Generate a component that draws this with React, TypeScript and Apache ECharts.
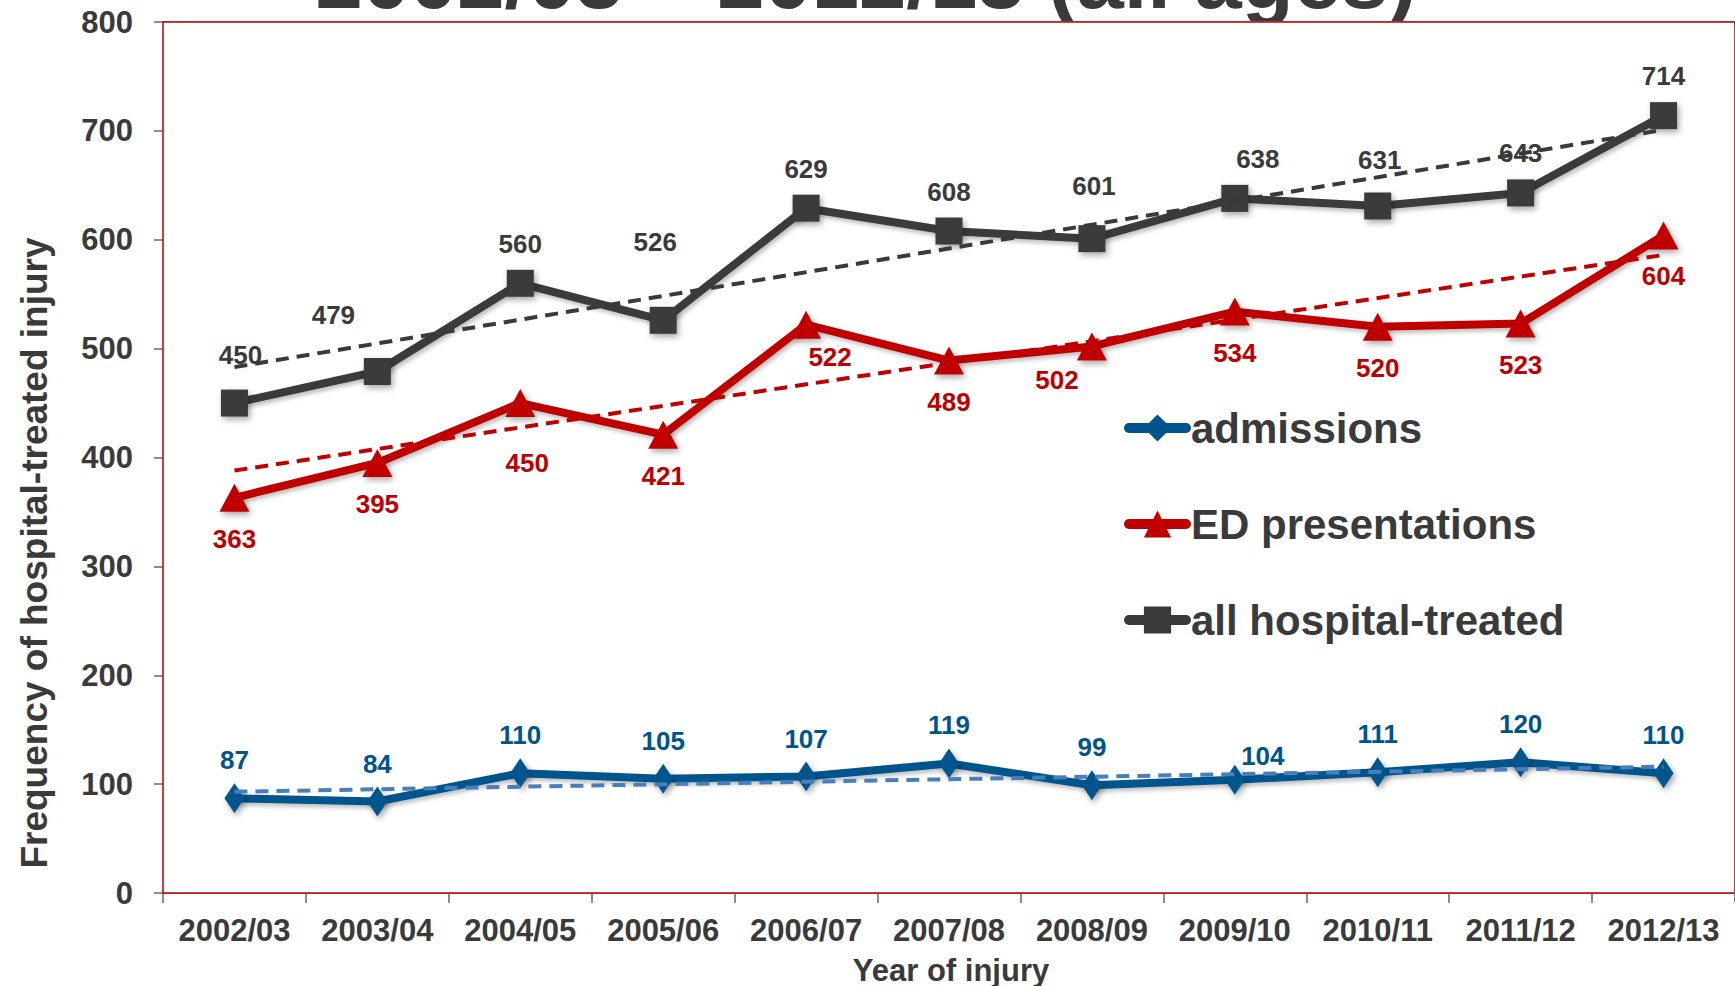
import React, { useEffect, useRef } from "react";
import * as echarts from "echarts";

// Financial years on the category axis
const years = [
  "2002/03", "2003/04", "2004/05", "2005/06", "2006/07", "2007/08",
  "2008/09", "2009/10", "2010/11", "2011/12", "2012/13",
];

// Yearly counts of hospital-treated injury
const admissions = [87, 84, 110, 105, 107, 119, 99, 104, 111, 120, 110];
const edPresentations = [363, 395, 450, 421, 522, 489, 502, 534, 520, 523, 604];
const allHospitalTreated = [450, 479, 560, 526, 629, 608, 601, 638, 631, 643, 714];

// Linear trend lines: value at the first and at the last year
const admissionsTrend = [93, 116];
const edTrend = [388, 586];
const allTrend = [483, 701];

// Value axis range
const yMin = 0;
const yMax = 800;
const yStep = 100;

const titleText = "2002/03 – 2012/13 (all ages)";

const FONT = "'Liberation Sans', Arial, Helvetica, sans-serif";
const DARK = "#3a3a3a";
const RED = "#c00000";
const BLUE = "#00548c";
const BLUE_TREND = "#4a7ebb";

// Hand-placed nudges [dx, dy] for labels that sit off their default spot
const allNudges: Record<number, number[]> = {
  0: [6, -9], 1: [-44, -17], 3: [-8, -39], 6: [2, -13], 7: [23, 0], 8: [2, -6],
};
const edNudges: Record<number, number[]> = {
  2: [7, 19], 4: [24, -9], 6: [-35, -7],
};
const admissionsNudges: Record<number, number[]> = {
  7: [28, 14],
};

const withNudges = (values: number[], nudges: Record<number, number[]>) =>
  values.map((v, i) => (nudges[i] ? { value: v, label: { offset: nudges[i] } } : v));

const markerShadow = {
  shadowBlur: 6,
  shadowColor: "rgba(0,0,0,0.35)",
  shadowOffsetX: 2,
  shadowOffsetY: 3,
};

const mainSeries = (
  name: string,
  values: number[],
  nudges: Record<number, number[]>,
  color: string,
  symbol: string,
  symbolSize: number | number[],
  labelPos: "top" | "bottom",
  labelDistance: number
) => ({
  name,
  type: "line",
  data: withNudges(values, nudges),
  symbol,
  symbolSize,
  z: 3,
  lineStyle: { color, width: 8, ...markerShadow, shadowBlur: 4, shadowColor: "rgba(0,0,0,0.25)" },
  itemStyle: { color, ...markerShadow },
  label: {
    show: true,
    position: labelPos,
    distance: labelDistance,
    color,
    fontSize: 26,
    fontWeight: "bold",
    fontFamily: FONT,
  },
  emphasis: { disabled: true },
});

const trendSeries = (name: string, ends: number[], color: string) => ({
  name,
  type: "line",
  data: [
    [years[0], ends[0]],
    [years[years.length - 1], ends[1]],
  ],
  symbol: "none",
  z: 4,
  lineStyle: { color, width: 4, type: [13, 8] },
  emphasis: { disabled: true },
  silent: true,
});

export default function App() {
  const ref = useRef<HTMLDivElement>(null);

  useEffect(() => {
    if (!ref.current) return;
    const chart = echarts.init(ref.current, null, { renderer: "svg" });

    const option = {
      animation: false,
      backgroundColor: "#ffffff",
      grid: {
        left: 163,
        top: 22,
        width: 1576,
        height: 871,
        show: true,
        backgroundColor: "#ffffff",
        borderColor: RED,
        borderWidth: 1.5,
        z: 1,
      },
      graphic: [
        {
          type: "text",
          z: -10,
          x: 866,
          y: -22,
          style: {
            text: titleText,
            fill: DARK,
            font: `bold 85px ${FONT}`,
            align: "center",
            verticalAlign: "middle",
          },
        },
        {
          type: "text",
          x: 34,
          y: 553,
          rotation: Math.PI / 2,
          style: {
            text: "Frequency of hospital-treated injury",
            fill: DARK,
            font: `bold 37px ${FONT}`,
            align: "center",
            verticalAlign: "middle",
          },
        },
        {
          type: "text",
          x: 951,
          y: 970,
          style: {
            text: "Year of injury",
            fill: DARK,
            font: `bold 31px ${FONT}`,
            align: "center",
            verticalAlign: "middle",
          },
        },
      ],
      legend: {
        orient: "vertical",
        left: 1124,
        top: 406,
        padding: 0,
        itemWidth: 57,
        itemHeight: 34,
        itemGap: 52,
        selectedMode: false,
        lineStyle: { width: 10, cap: "round" },
        data: ["admissions", "ED presentations", "all hospital-treated"],
        textStyle: {
          color: DARK,
          fontSize: 42,
          lineHeight: 44,
          fontWeight: "bold",
          fontFamily: FONT,
        },
      },
      xAxis: {
        type: "category",
        data: years,
        boundaryGap: true,
        axisLine: { show: true, lineStyle: { color: "#8c8c8c", width: 2 } },
        axisTick: { show: true, length: 10, lineStyle: { color: "#8c8c8c", width: 2 } },
        axisLabel: {
          color: DARK,
          fontSize: 31,
          fontWeight: "bold",
          fontFamily: FONT,
          margin: 22,
          interval: 0,
        },
        splitLine: { show: false },
      },
      yAxis: {
        type: "value",
        min: yMin,
        max: yMax,
        interval: yStep,
        axisLine: { show: false },
        axisTick: { show: true, length: 9, lineStyle: { color: "#8c8c8c", width: 2 } },
        axisLabel: {
          color: DARK,
          fontSize: 31,
          fontWeight: "bold",
          fontFamily: FONT,
          margin: 30,
        },
        splitLine: { show: true, lineStyle: { color: "#a6a6a6", width: 2 } },
      },
      series: [
        mainSeries("admissions", admissions, admissionsNudges, BLUE, "diamond", [20, 30], "top", 10),
        mainSeries("ED presentations", edPresentations, edNudges, RED, "triangle", [30, 28], "bottom", 14),
        mainSeries("all hospital-treated", allHospitalTreated, allNudges, DARK, "rect", 27, "top", 13),
        trendSeries("admissions trend", admissionsTrend, BLUE_TREND),
        trendSeries("ED presentations trend", edTrend, RED),
        trendSeries("all hospital-treated trend", allTrend, DARK),
      ],
    };

    chart.setOption(option as any);
    return () => chart.dispose();
  }, []);

  return (
    <div
      ref={ref}
      style={{ position: "fixed", left: 0, top: 0, width: 1735, height: 986, background: "#fff" }}
    />
  );
}
